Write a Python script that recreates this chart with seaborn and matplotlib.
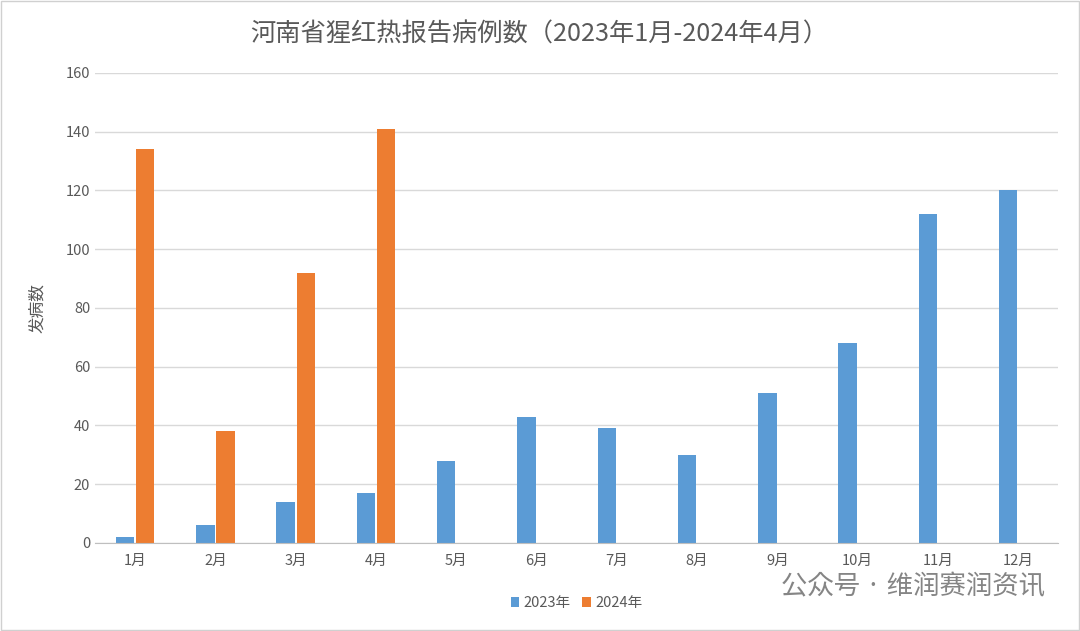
import matplotlib
matplotlib.use("Agg")
import matplotlib.pyplot as plt
from matplotlib import font_manager as fm
import seaborn as sns
import pandas as pd

months = ["1月","2月","3月","4月","5月","6月","7月","8月","9月","10月","11月","12月"]
cases_2023 = [2, 6, 14, 17, 28, 43, 39, 30, 51, 68, 112, 120]
cases_2024 = [134, 38, 92, 141, None, None, None, None, None, None, None, None]
series = ["2023年", "2024年"]

rows = []
for m, a, b in zip(months, cases_2023, cases_2024):
    rows.append((m, series[0], a))
    rows.append((m, series[1], b if b is not None else 0))
df = pd.DataFrame(rows, columns=["month", "year", "cases"])

names = sorted({f.name for f in fm.fontManager.ttflist})
cjk = [n for n in names if "CJK" in n]
plt.rcParams["font.family"] = cjk + ["DejaVu Sans"] if cjk else ["DejaVu Sans"]

fig = plt.figure(figsize=(10.8, 6.31), dpi=100)
ax = fig.add_axes([0.088, 0.1395, 0.892, 0.745])
sns.barplot(data=df, x="month", y="cases", hue="year", order=months, hue_order=series,
            palette=["#5B9BD5", "#ED7D31"], saturation=1, width=0.5, gap=0.08, ax=ax, legend=True)
ax.set_ylim(0, 160)
ax.set_yticks(range(0, 161, 20))
ax.yaxis.grid(True, color="#d9d9d9", lw=1)
ax.set_axisbelow(True)
for s in ["top", "right", "left"]:
    ax.spines[s].set_visible(False)
ax.spines["bottom"].set_color("#bfbfbf")
ax.tick_params(axis="both", length=0, colors="#595959", labelsize=10.5)
ax.tick_params(axis="x", pad=8)
ax.set_xlabel("")
ax.set_ylabel("发病数", color="#595959", fontsize=12, labelpad=14)
fig.text(0.4995, 0.945, "河南省猩红热报告病例数（2023年1月-2024年4月）", ha="center", va="center",
         fontsize=18.2, color="#595959")
ax.legend(loc="upper center", bbox_to_anchor=(0.5, -0.085), ncol=2, frameon=False,
          fontsize=10.5, handlelength=0.6, handleheight=0.6, columnspacing=0.8, handletextpad=0.3,
          labelcolor="#595959")
fig.text(0.968, 0.07, "公众号 · 维润赛润资讯", ha="right", va="center", fontsize=19, color="#707070", alpha=0.85)
fig.patches.append(plt.Rectangle((0.001, 0.001), 0.998, 0.998, transform=fig.transFigure,
                                 fill=False, edgecolor="#d0d0d0", lw=1))
fig.savefig("out.png", dpi=100)
